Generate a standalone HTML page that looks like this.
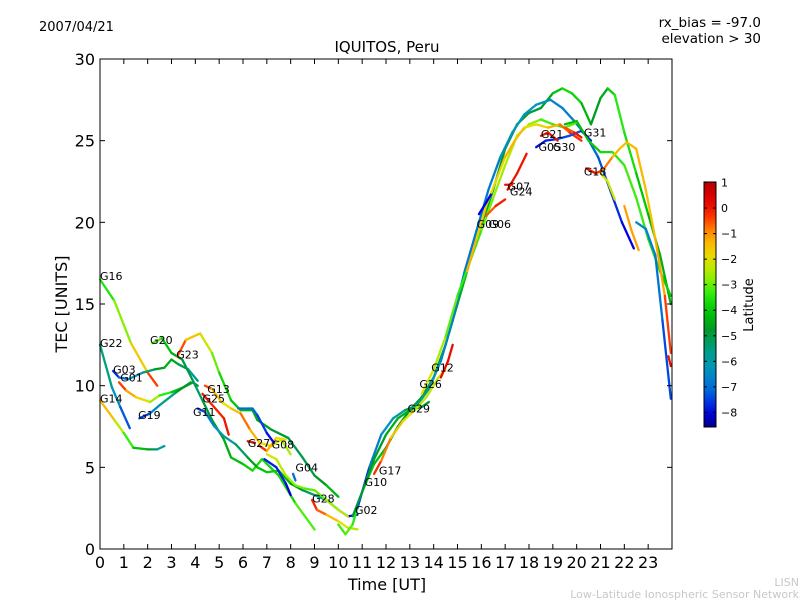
<!DOCTYPE html>
<html><head><meta charset="utf-8"><style>
html,body{margin:0;padding:0;background:#fff;}
svg{display:block;font-family:"DejaVu Sans","Liberation Sans",sans-serif;}
</style></head><body>
<svg id="chart" width="800" height="600" viewBox="0 0 800 600">
<rect x="0" y="0" width="800" height="600" fill="#fff"/>
<text x="39" y="31" font-size="13">2007/04/21</text>
<text x="761" y="27" font-size="13.5" text-anchor="end">rx_bias = -97.0</text>
<text x="761" y="43" font-size="13.5" text-anchor="end">elevation &gt; 30</text>
<text x="387" y="52" font-size="15" text-anchor="middle">IQUITOS, Peru</text>
<g id="marks"></g>
<g id="axes"></g>
<text x="387" y="590" font-size="16" text-anchor="middle">Time [UT]</text>
<text x="67" y="304" font-size="16" text-anchor="middle" transform="rotate(-90 67 304)">TEC [UNITS]</text>
<defs><linearGradient id="cbg" x1="0" y1="1" x2="0" y2="0"></linearGradient></defs>
<g id="cbar"></g>
<text x="753" y="305" font-size="13" text-anchor="middle" transform="rotate(-90 753 305)">Latitude</text>
<text x="799" y="586" font-size="11" fill="#c8c8c8" text-anchor="end">LISN</text>
<text x="799" y="598" font-size="11" fill="#c8c8c8" text-anchor="end">Low-Latitude Ionospheric Sensor Network</text>
</svg>
<script>
const traceNames=["G16","G22","G14","G03","G01","G19","G20","G23","G13","G25","G11","G27","G08","cyan7","blue7","yel7","G04","G28","hump","G10","G29","G17","G12","G26","orng","G07","G24","G09","G06","G05","G21","G30","G31","G18","yel21","teal23","red24","orng22"];
const traceHours=[
[0,0.6,1.3,2.0,2.4],
[0,0.5,0.85,1.25],
[0,0.6,1.0,1.4,2.0,2.4,2.7],
[0.55,0.8,1.2,1.8,2.3,2.7,3.0,3.3,3.7,4.1],
[0.8,1.1,1.5,2.1,2.5,3.0,3.5,3.9,4.1],
[1.65,2.1,2.5,3.2,3.8],
[2.2,2.6,3.0,3.45,3.9,4.3,4.7,5.2,5.5,6.0,6.4,6.8,7.5,8.2,9.0],
[3.25,3.6,4.2,4.7,5.0,5.5,5.9,6.4,6.6,7.2,7.9,8.5,9.0,9.5,10.0],
[4.4,4.7,5.1,5.5,5.9,6.3,6.7,7.2,7.6,8.0],
[4.3,4.6,4.9,5.2,5.4],
[4.1,4.4,4.8,5.2,5.7,6.2,6.6,7.0,7.5,8.0,8.5,9.0,9.5,10.0,10.4,10.8],
[6.2,6.5],
[6.7,7.0,7.4,7.8],
[5.8,6.4,6.6,7.0,7.3],
[6.9,7.4,7.8,8.0],
[7.0,7.4,7.8,8.2,8.6,9.0,9.5,10.0,10.4],
[8.1,8.2],
[8.9,9.1,9.5,10.0,10.4,10.8],
[10.0,10.3,10.6,11,11.5,12,12.5,13,13.5,14,14.5,15,15.5,16,16.5,17,17.5,18,18.5,19,19.4,19.8,20.2,20.6,21,21.3,21.6,22,22.5,23,23.5,23.95],
[10.8,11.3,11.8,12.3,12.8,13.3,13.8,14.3,14.8,15.3,15.8,16.3,16.8,17.3,17.8,18.3,18.9,19.4,19.9,20.4,20.9,21.4,21.9,22.4],
[10.6,11,11.5,12,12.5,13,13.5,13.8],
[11.5,11.8,12.2,12.7,13.2,13.7,14.2,14.5],
[14.3,14.6,14.8],
[13.5,14,14.5,15,15.5,16,16.5,17,17.5,18,18.5,19,19.5,20],
[15.4,15.8,16.2,16.6,17,17.4,17.8,18.3,18.8,19.3,19.7,20.2],
[17.1,17.5,17.9],
[17.0,17.3],
[15.9,16.2,16.4],
[16.2,16.6,17.0],
[18.3,18.7,19.2,19.7,20.2,20.6],
[18.5,18.8,19.2],
[19.5,19.9,20.2],
[19.5,20,20.5,21,21.5,22,22.5,23,23.5,23.95],
[20.4,20.8,21.1,21.5,21.8,22.1,22.5,22.9,23.3,23.7,23.95],
[21.0,21.3,21.6],
[22.5,22.9,23.3,23.6,23.95],
[23.85,23.95],
[22.0,22.3,22.6]
];
const traceTec=[
[16.5,15.2,12.6,10.8,10.0],
[12.5,9.9,8.7,7.4],
[9.1,7.9,7.1,6.2,6.1,6.1,6.3],
[10.9,10.5,10.4,10.8,11.0,11.1,11.6,11.3,11.0,10.3],
[10.2,9.7,9.3,9.0,9.4,9.6,9.9,10.2,10.0],
[8.0,8.3,8.8,9.6,10.2],
[12.6,12.9,12.0,11.6,10.3,9.1,7.9,6.7,5.6,5.2,4.8,5.5,4.5,2.8,1.2],
[11.8,12.8,13.2,12.0,10.8,9.1,8.5,8.5,7.9,7.3,6.8,5.6,4.5,3.9,3.2],
[10.0,9.8,9.0,8.6,8.3,7.3,6.5,6.3,6.7,5.8],
[9.5,9.0,8.5,8.0,7.0],
[8.6,8.4,7.5,6.9,6.4,5.6,5.0,4.7,4.8,4.0,3.6,3.3,3.0,2.4,2.0,2.1],
[6.6,6.5],
[6.3,6.0,6.8,6.7],
[8.6,8.6,8.2,7.1,6.5],
[5.5,5.0,4.0,3.3],
[5.8,5.5,4.5,3.9,3.7,3.6,3.0,2.4,2.0],
[4.6,4.2],
[3.0,2.4,2.1,1.7,1.3,1.2],
[1.5,0.9,1.5,3.5,5.2,6.2,7.5,8.5,9.3,10.5,12.5,15.0,17.5,19.8,22,24.5,26,26.7,27.0,27.9,28.2,27.9,27.3,26.0,27.6,28.2,27.8,25.5,23.0,20.5,18,15.0],
[2.5,5,7,8,8.5,8.8,9.8,11.5,14,17,19.5,22,24,25.5,26.6,27.2,27.5,27,26.2,25.3,24,22,20,18.4],
[2.0,3.5,5.5,7.0,8.0,8.5,8.7,9.0],
[4.6,5.4,6.8,7.8,8.5,9.3,10.5,11.0],
[10.5,11.5,12.5],
[9.5,11,13,15.5,17.5,19.5,21.5,23.5,25.3,26,26.3,26.0,25.8,26.1],
[17,19,21,22.5,24.0,25.0,25.8,26.0,25.8,26,25.5,25.0],
[22,23,24.2],
[22.3,22.3],
[20.5,21.2,21.7],
[20.4,21.0,21.4],
[24.6,25.0,25.1,25.3,25.6,25.0],
[25.3,25.5,25.0],
[25.8,25.5,25.2],
[26.0,26.2,25.0,24.3,24.3,23.5,21.5,19,17,15.5],
[23.3,23.0,23.2,24,24.5,24.9,24.5,22,19,15.5,12],
[23.0,22.5,21.4],
[20,19.6,18,14,9.2],
[11.8,11.2],
[21,19.5,18.3]
];
const traceLat=[
[-3.8,-3.2,-2.4,-0.8,0],
[-5,-6,-6.8,-7.8],
[-0.8,-2,-2.8,-3.8,-4.5,-5.5,-6.5],
[-8,-7.3,-6.8,-5.8,-5,-4.5,-4.3,-4.8,-5.5,-6.2],
[0,-0.8,-1.5,-2.2,-3,-3.8,-4.3,-4.8,-4.5],
[-8,-7,-6,-5,-4.5],
[-2.5,-3.8,-4.3,-4.6,-5.5,-5.0,-4.8,-4.6,-4.3,-4,-3.8,-3.5,-4,-3.5,-2.8],
[0,-1,-2,-2.5,-3.5,-4,-4.2,-4.4,-4.6,-4.8,-5,-5.2,-5,-4.5,-4],
[0,-1,-2,-2,-1,-0.5,-2,-2,-2.3,-2.8],
[0,0,-0.3,0,0],
[-8,-7,-6.5,-6,-5.5,-5,-4.2,-3.8,-4.0,-4.5,-5,-5.5,-6,-7,-8,-8],
[0,0],
[0,-0.5,-2,-2],
[-7,-7,-7.2,-7.8,-8],
[-8,-7.5,-8,-8.2],
[-2,-2.2,-2.5,-2.8,-3,-3.2,-2.8,-2.5,-2.2],
[-7,-7],
[0,-0.3,-1,-1.8,-2.3,-2.6],
[-3.5,-3,-3.2,-3.6,-4,-4.3,-4.6,-4.8,-5,-5,-4.6,-4.4,-4.3,-4.5,-4.6,-4.8,-5,-5.2,-5,-4.2,-3.8,-3.6,-4,-4.6,-4.8,-4.2,-3.5,-3.4,-3.8,-4.2,-4.5,-4.4],
[-8,-7,-6.5,-6.2,-5.5,-5,-6,-6.5,-6.7,-6.8,-6.8,-7,-6.5,-6.2,-6,-6.3,-6.5,-6.6,-6.8,-7,-7.2,-7.5,-7.8,-8.2],
[-5,-5,-4.8,-4.5,-4.4,-4.5,-5,-5],
[0,-0.5,-1.2,-1.8,-2.2,-2.5,-2.2,-2],
[0,0.2,0],
[-2,-2.2,-2.8,-3.3,-3.5,-3.2,-2.8,-2.5,-2.4,-2.5,-3.0,-3.5,-3.2,-3.0],
[-1,-1.5,-1.8,-2.0,-1.5,-1,-1.8,-2,-1.5,-1,-0.5,0],
[0,0,0],
[0,0],
[-8,-8,-8],
[-1,-0.2,0],
[-8,-7.8,-7.6,-7.2,-7.5,-8.2],
[0,0,0],
[-1,0,0],
[-4,-4.2,-4,-3.8,-3.5,-3.3,-3.2,-3.4,-3.8,-4],
[0,0,-0.5,-1.2,-1.5,-1.4,-1.2,-1.5,-1.5,-0.8,0],
[-2,-2.2,-2.2],
[-6.5,-6.5,-6.8,-7,-7.8],
[0,0],
[-1,-1.2,-1]
];
const labelNames=["G16","G22","G03","G01","G14","G19","G20","G23","G13","G25","G11","G27","G08","G04","G28","G10","G17","G02","G29","G26","G12","G09","G06","G07","G24","G21","G05","G30","G31","G18"];
const labelHours=[0.0,0.0,0.55,0.85,0.0,1.6,2.1,3.2,4.5,4.3,3.9,6.2,7.2,8.2,8.9,11.1,11.7,10.7,12.9,13.4,13.9,15.8,16.3,17.1,17.2,18.5,18.4,19.0,20.3,20.3];
const labelTec=[16.7,12.6,11.0,10.5,9.2,8.2,12.8,11.9,9.8,9.2,8.4,6.5,6.4,5.0,3.1,4.1,4.8,2.4,8.6,10.1,11.1,19.9,19.9,22.2,21.9,25.4,24.6,24.6,25.5,23.1];
const yTicks=[0,5,10,15,20,25,30];
const xTicks=[0,1,2,3,4,5,6,7,8,9,10,11,12,13,14,15,16,17,18,19,20,21,22,23];
const cbTicks=[1,0,-1,-2,-3,-4,-5,-6,-7,-8];

const X0=100,X1=672,Y0=59,Y1=549;
const xs=h=>X0+h*(X1-X0)/24;
const ys=v=>Y1-v*(Y1-Y0)/30;
const CB_TOP=182,CB_BOT=427,CB_MAX=1.02,CB_MIN=-8.57;
const cbY=l=>CB_TOP+(CB_MAX-l)*(CB_BOT-CB_TOP)/(CB_MAX-CB_MIN);
const stops=[[-8.6,[0,0,130]],[-8,[0,0,230]],[-7.2,[0,100,220]],[-6.3,[0,150,190]],[-5.5,[0,160,130]],[-4.8,[0,150,40]],[-4,[0,200,0]],[-3.4,[40,235,20]],[-2.7,[150,240,0]],[-2,[230,225,0]],[-1.2,[255,175,0]],[-0.4,[255,60,0]],[0.2,[230,0,0]],[1.1,[180,0,0]]];
function col(l){
  if(l<=stops[0][0])return `rgb(${stops[0][1]})`;
  for(let i=1;i<stops.length;i++){if(l<=stops[i][0]){const a=stops[i-1],b=stops[i],t=(l-a[0])/(b[0]-a[0]);const c=a[1].map((v,k)=>Math.round(v+(b[1][k]-v)*t));return `rgb(${c})`;}}
  return `rgb(${stops[stops.length-1][1]})`;
}
const NS="http://www.w3.org/2000/svg";
function mk(tag,attrs,parent){const e=document.createElementNS(NS,tag);for(const k in attrs)e.setAttribute(k,attrs[k]);parent.appendChild(e);return e;}
const marks=document.getElementById('marks');
traceNames.forEach((nm,i)=>{
  const g=mk('g',{},marks);
  
  
  const H=traceHours[i],V=traceTec[i],L=traceLat[i];
  for(let j=0;j<H.length-1;j++){
    const seg=mk('line',{x1:xs(H[j]),y1:ys(V[j]),x2:xs(H[j+1]),y2:ys(V[j+1]),stroke:col((L[j]+L[j+1])/2),'stroke-width':2.3,'stroke-linecap':'round'},g);
    
    
  }
});
labelNames.forEach((nm,i)=>{
  const t=mk('text',{x:xs(labelHours[i]),y:ys(labelTec[i])+4,'font-size':11},marks);
  t.textContent=nm;
  
  
});
const axes=document.getElementById('axes');
const frame=mk('rect',{x:X0,y:Y0,width:X1-X0,height:Y1-Y0,fill:'none',stroke:'#000','stroke-width':1},axes);


yTicks.forEach(v=>{
  const y=ys(v);
  mk('line',{x1:X0,y1:y,x2:X0+5,y2:y,stroke:'#000'},axes);
  mk('line',{x1:X1,y1:y,x2:X1-5,y2:y,stroke:'#000'},axes);
  const t=mk('text',{x:95,y:y+6,'font-size':16,'text-anchor':'end'},axes);
  t.textContent=v;
  
  
});
xTicks.forEach(h=>{
  const x=xs(h);
  mk('line',{x1:x,y1:Y1,x2:x,y2:Y1-5,stroke:'#000'},axes);
  mk('line',{x1:x,y1:Y0,x2:x,y2:Y0+5,stroke:'#000'},axes);
  const t=mk('text',{x:x,y:568,'font-size':16,'text-anchor':'middle'},axes);
  t.textContent=h;
  
  
});
const cbar=document.getElementById('cbar');
const grad=document.getElementById('cbg');
for(let k=0;k<=20;k++){const l=CB_MIN+(CB_MAX-CB_MIN)*k/20;mk('stop',{offset:(k/20),'stop-color':col(l)},grad);}
const cb=mk('rect',{x:704,y:CB_TOP,width:12,height:CB_BOT-CB_TOP,fill:'url(#cbg)',stroke:'#000','stroke-width':1},cbar);


cbTicks.forEach(l=>{
  const y=cbY(l);
  mk('line',{x1:704,y1:y,x2:707,y2:y,stroke:'#000'},cbar);
  mk('line',{x1:716,y1:y,x2:713,y2:y,stroke:'#000'},cbar);
  const t=mk('text',{x:721,y:y+4,'font-size':11},cbar);
  t.textContent=(l<0?'\u2212'+(-l):l);
  
  
});
</script>
</body></html>
